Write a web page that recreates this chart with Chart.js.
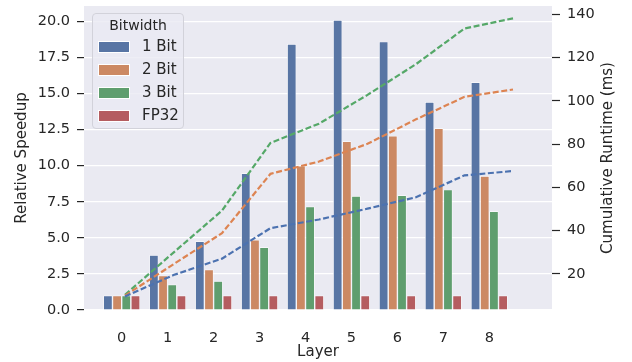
<!DOCTYPE html>
<html>
<head>
<meta charset="utf-8">
<script src="https://cdn.jsdelivr.net/npm/chart.js@4.4.1/dist/chart.umd.min.js"></script>
<style>
  html, body { margin: 0; padding: 0; background: #fff; }
  #wrap { position: relative; width: 632px; height: 362px; }
  #wrap canvas { position: absolute; left: 0; top: 0; }
  #legend {
    position: absolute; left: 92px; top: 13px; width: 92px; height: 116px;
    box-sizing: border-box; border: 1px solid #d2d2da; border-radius: 4px;
    background: rgba(234, 234, 242, 0.8);
    font-family: 'DejaVu Sans', sans-serif; color: #262626;
  }
  #legend .title { position: absolute; left: 0; width: 100%; top: 3px; text-align: center; font-size: 14px; }
  #legend .row { position: absolute; left: 5px; height: 20px; }
  #legend .sw { position: absolute; left: 0; top: 4px; width: 30px; height: 10px; border: 1px solid #fff; }
  #legend .lbl { position: absolute; left: 44px; top: 0; font-size: 15px; white-space: nowrap; line-height: 18px; }
</style>
</head>
<body>
<div id="wrap">
  <canvas id="barChart" width="632" height="362"></canvas>
  <canvas id="lineChart" width="632" height="362"></canvas>
  <div id="legend"></div>
</div>
<script>
'use strict';

const layers = [0, 1, 2, 3, 4, 5, 6, 7, 8];
const bitwidths = ['1 Bit', '2 Bit', '3 Bit', 'FP32'];

// relative speedup per layer (bars, left axis)
const speedup1Bit = [1.0, 3.8, 4.77, 9.47, 18.43, 20.1, 18.6, 14.42, 15.78];
const speedup2Bit = [1.0, 2.39, 2.8, 4.86, 10.0, 11.69, 12.08, 12.6, 9.29];
const speedup3Bit = [1.0, 1.77, 2.0, 4.35, 7.17, 7.9, 7.95, 8.34, 6.84];
const speedupFP32 = [1, 1, 1, 1, 1, 1, 1, 1, 1];

// cumulative runtime in ms (dashed lines, right axis)
const runtime1Bit = [9.6, 19.5, 27.1, 41.2, 45.2, 50.2, 55.5, 65.6, 67.6];
const runtime2Bit = [10.0, 24.5, 38.9, 66.3, 72.0, 80.2, 91.5, 101.9, 105.3];
const runtime3Bit = [10.4, 29.9, 49.3, 80.6, 89.5, 102.8, 117.0, 133.5, 138.2];

const speedupTicks = [0, 2.5, 5, 7.5, 10, 12.5, 15, 17.5, 20];
const runtimeTicks = [20, 40, 60, 80, 100, 120, 140];

const barColors = ['#5875A4', '#CC8963', '#5F9E6E', '#B55D60'];
const lineColors = ['#4C72B0', '#DD8452', '#55A868'];
const textColor = '#262626';
const fontFamily = "'DejaVu Sans', sans-serif";

const speedups = [speedup1Bit, speedup2Bit, speedup3Bit, speedupFP32];
const runtimes = [runtime1Bit, runtime2Bit, runtime3Bit];

// plot box shared by both canvases
const box = { left: 84, right: 80, top: 6, bottom: 52 };
const runtimeRange = { min: 3.35, max: 143.9 };

const plotBackground = {
  id: 'plotBackground',
  beforeDraw(chart) {
    const { ctx, chartArea: a } = chart;
    ctx.save();
    ctx.fillStyle = '#EAEAF2';
    ctx.fillRect(a.left, a.top, a.right - a.left, a.bottom - a.top);
    ctx.restore();
  }
};

// right axis title, reading bottom to top like the left one
const rightTitle = {
  id: 'rightTitle',
  afterDraw(chart) {
    const { ctx, chartArea: a } = chart;
    ctx.save();
    ctx.translate(608.5, (a.top + a.bottom) / 2);
    ctx.rotate(-Math.PI / 2);
    ctx.font = `15px ${fontFamily}`;
    ctx.fillStyle = textColor;
    ctx.textAlign = 'center';
    ctx.textBaseline = 'middle';
    ctx.fillText('Cumulative Runtime (ms)', 0, 0);
    ctx.restore();
  }
};

const barChart = new Chart(document.getElementById('barChart'), {
  type: 'bar',
  data: {
    datasets: speedups.map((vals, i) => ({
      label: bitwidths[i],
      data: vals.map((v, j) => ({ x: layers[j], y: v })),
      backgroundColor: barColors[i],
      borderColor: '#ffffff',
      borderWidth: 0.7,
      categoryPercentage: 0.8,
      barPercentage: 1.0
    }))
  },
  options: {
    responsive: false,
    animation: false,
    layout: { padding: { top: box.top, left: 0, right: 0, bottom: 0 } },
    plugins: { legend: { display: false }, tooltip: { enabled: false } },
    scales: {
      x: {
        type: 'linear',
        offset: false,
        min: -0.82,
        max: 9.364,
        afterBuildTicks: s => { s.ticks = layers.map(v => ({ value: v })); },
        afterFit: s => { s.height = box.bottom; },
        grid: { display: false },
        border: { display: false },
        ticks: { color: textColor, font: { family: fontFamily, size: 14.5 }, padding: 12, callback: v => String(v) },
        title: { display: true, text: 'Layer', color: textColor, font: { family: fontFamily, size: 15 }, padding: { top: 0, bottom: 1 } }
      },
      y: {
        position: 'left',
        min: 0,
        max: 21.07,
        afterBuildTicks: s => { s.ticks = speedupTicks.map(v => ({ value: v })); },
        afterFit: s => { s.width = box.left; s.paddingTop = 0; s.paddingBottom = 0; },
        grid: { color: '#ffffff', lineWidth: 1.2, tickColor: textColor, tickLength: 7, tickWidth: 1.2 },
        border: { display: false },
        ticks: { color: textColor, font: { family: fontFamily, size: 14.5 }, padding: 7, callback: v => v.toFixed(1) },
        title: { display: true, text: 'Relative Speedup', color: textColor, font: { family: fontFamily, size: 15 }, padding: { top: 13, bottom: 0 } }
      },
      y2: {
        position: 'right',
        min: runtimeRange.min,
        max: runtimeRange.max,
        afterBuildTicks: s => { s.ticks = runtimeTicks.map(v => ({ value: v })); },
        afterFit: s => { s.width = box.right; s.paddingTop = 0; s.paddingBottom = 0; },
        grid: { drawOnChartArea: false, tickColor: textColor, tickLength: 8, tickWidth: 1.2 },
        border: { display: false },
        ticks: { color: textColor, font: { family: fontFamily, size: 14.5 }, padding: 7, callback: v => String(v) }
      }
    }
  },
  plugins: [plotBackground, rightTitle]
});

// dashed runtime lines on a transparent canvas over the bars
const lineChart = new Chart(document.getElementById('lineChart'), {
  type: 'line',
  data: {
    datasets: runtimes.map((vals, i) => ({
      label: bitwidths[i],
      data: vals.map((v, j) => ({ x: layers[j], y: v })),
      borderColor: lineColors[i],
      borderWidth: 2.2,
      borderDash: [6, 2.6],
      pointRadius: 0,
      fill: false,
      tension: 0
    }))
  },
  options: {
    responsive: false,
    animation: false,
    layout: { padding: box },
    plugins: { legend: { display: false }, tooltip: { enabled: false } },
    scales: {
      x: { type: 'linear', display: false, offset: false, min: -0.845, max: 8.804 },
      y: { type: 'linear', display: false, min: runtimeRange.min, max: runtimeRange.max }
    }
  }
});

// legend box drawn as html over the plot
const legend = document.getElementById('legend');
let html = '<div class="title">Bitwidth</div>';
const rowTops = [23, 46, 69, 92];
bitwidths.forEach((name, i) => {
  html += `<div class="row" style="top:${rowTops[i]}px">` +
    `<div class="sw" style="background:${barColors[i]}"></div>` +
    `<div class="lbl">${name}</div></div>`;
});
legend.innerHTML = html;
</script>
</body>
</html>
